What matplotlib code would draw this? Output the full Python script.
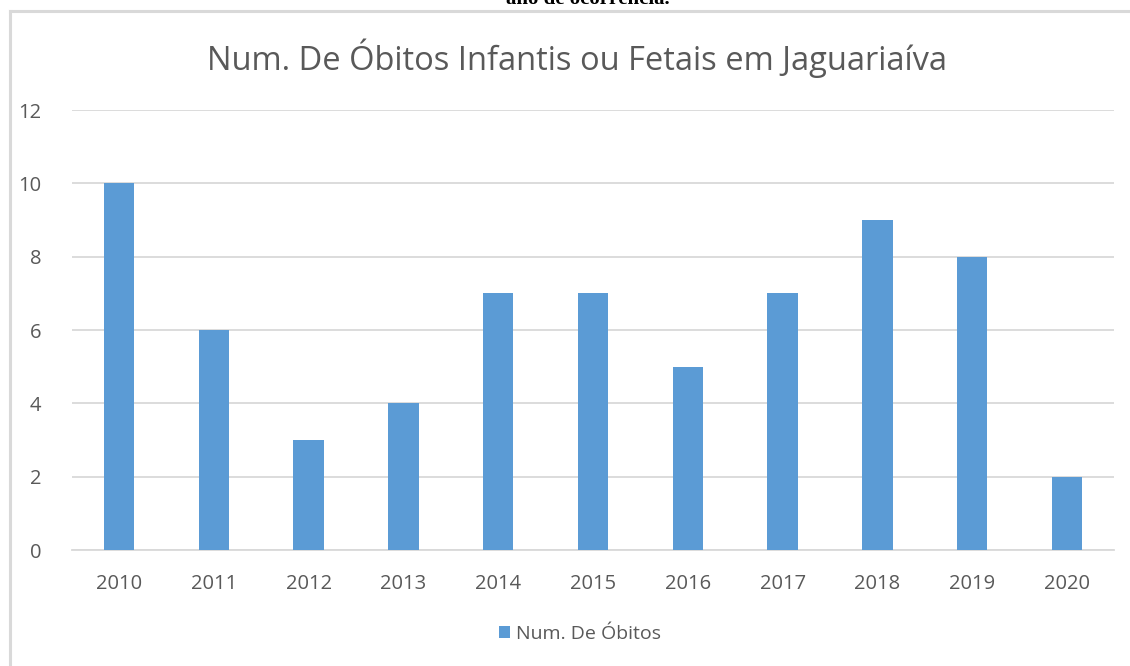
import matplotlib.pyplot as plt
from matplotlib.lines import Line2D

anos = ['2010', '2011', '2012', '2013', '2014', '2015', '2016', '2017', '2018', '2019', '2020']
obitos = [10, 6, 3, 4, 7, 7, 5, 7, 9, 8, 2]
titulo = 'Num. De Óbitos Infantis ou Fetais em Jaguariaíva'
serie = 'Num. De Óbitos'

cinza = '#595959'
azul = '#5b9bd5'
plt.rcParams['font.family'] = ['Open Sans', 'DejaVu Sans']

fig = plt.figure(figsize=(11.3, 6.66), dpi=100)
W, H = 1130, 666

# caption cut off at the top of the page
fig.text(588 / W, 1 + 1 / H, 'ano de ocorrência.', ha='center', va='center',
         fontsize=15, fontweight='bold', family='Liberation Serif', color='black')

# chart frame
fig.add_artist(Line2D([10 / W, 1.0], [1 - 11 / H, 1 - 11 / H], color='#d9d9d9', lw=2.2,
                      transform=fig.transFigure))
fig.add_artist(Line2D([10 / W, 10 / W], [0, 1 - 11 / H], color='#d9d9d9', lw=2.2,
                      transform=fig.transFigure))

ax = fig.add_axes([71.6 / W, 1 - 550 / H, (1114.4 - 71.6) / W, 440 / H])
x = range(len(anos))
ax.bar(x, obitos, width=0.32, color=azul, zorder=3, label=serie)
ax.set_xlim(-0.5, len(anos) - 0.5)
ax.set_ylim(0, 12)
ax.set_yticks(range(0, 13, 2))
ax.set_xticks(list(x))
ax.set_xticklabels(anos)
ax.tick_params(colors=cinza, labelsize=14.5, length=0)
ax.tick_params(axis='y', pad=22)
ax.tick_params(axis='x', pad=17)
ax.grid(axis='y', color='#d9d9d9', lw=1.3, zorder=0)
for s in ['top', 'right', 'left']:
    ax.spines[s].set_visible(False)
ax.spines['bottom'].set_color('#d9d9d9')
ax.spines['bottom'].set_linewidth(1.3)

fig.text(577 / W, 1 - 58 / H, titulo, ha='center', va='center', fontsize=23.5, color=cinza)

leg = fig.legend(loc='center', bbox_to_anchor=(580 / W, 1 - 634 / H), frameon=False,
                 fontsize=14, handlelength=0.6, handleheight=0.6, handletextpad=0.3)
for t in leg.get_texts():
    t.set_color(cinza)

fig.savefig('out.png', dpi=100, facecolor='white')
